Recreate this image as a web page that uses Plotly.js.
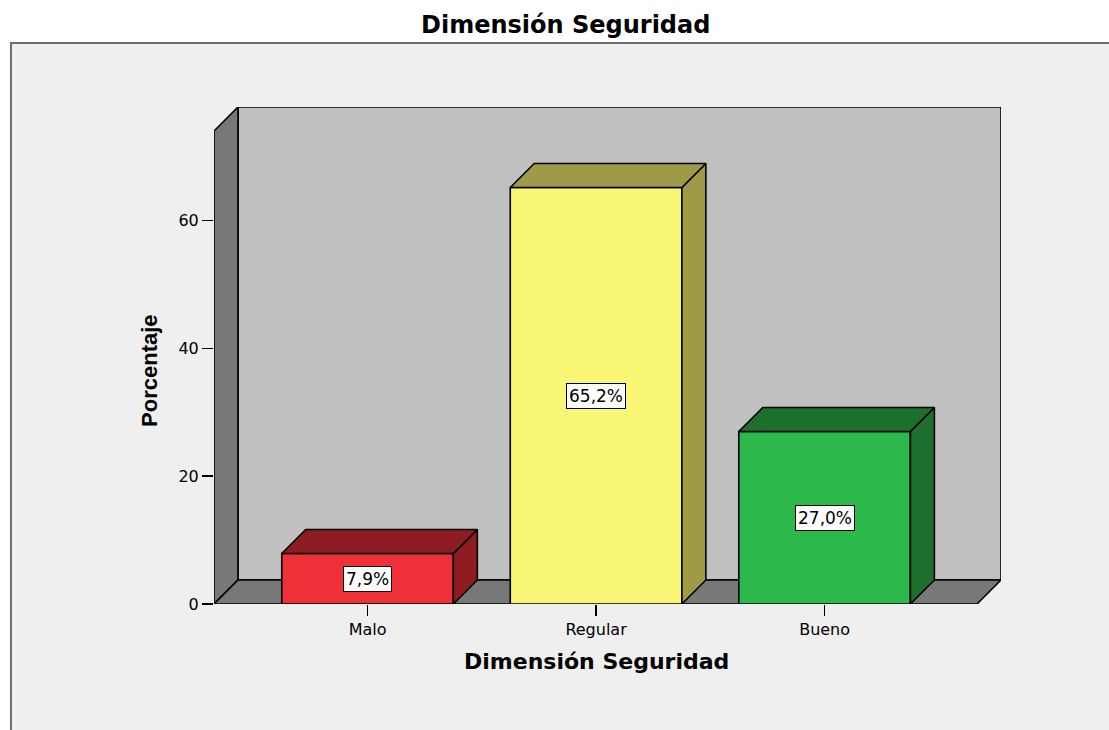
<!DOCTYPE html>
<html>
<head>
<meta charset="utf-8">
<script src="https://cdn.plot.ly/plotly-3.0.1.min.js"></script>
<style>
  html, body { margin: 0; padding: 0; background: #ffffff; }
  #chart { width: 1109px; height: 730px; }
</style>
</head>
<body>
<div id="chart"></div>
<script>
// Frequency of answers for the "Dimensión Seguridad" scale
const categorias = ['Malo', 'Regular', 'Bueno'];
const porcentajes = [7.9, 65.2, 27.0];
const colorFrente = ['#ef3039', '#f9f575', '#2db84b'];
const colorSombra = ['#8f1c21', '#9e9a48', '#1d6f2e'];
const marcasY = [0, 20, 40, 60];

// axis extents and the 3D depth offset (in data units)
const X0 = -0.672, X1 = 2.772;
const Y0 = 0, Y1 = 77.8;
const DX = 0.105, DY = 3.76;
const ANCHO = 0.751;
const EDGE = { color: '#000000', width: 1.6 };
const FONT = 'DejaVu Sans, Verdana, sans-serif';

const xs = categorias.map((_, i) => i);

// Box walls: back, left side and floor
const pathOf = pts => 'M' + pts.map(p => p[0] + ',' + p[1]).join(' L') + ' Z';
const shapes = [
  // outer panel
  { type: 'rect', xref: 'paper', yref: 'paper', x0: -0.258, x1: 1.3, y0: -0.3, y1: 1.1288,
    fillcolor: '#efefef', line: { color: '#6e6e6e', width: 2 }, layer: 'below' },
  // back wall
  { type: 'path', xref: 'x', yref: 'y', layer: 'below', fillcolor: '#c0c0c0', line: EDGE,
    path: pathOf([[X0 + DX, Y0 + DY], [X1, Y0 + DY], [X1, Y1], [X0 + DX, Y1]]) },
  // left wall
  { type: 'path', xref: 'x', yref: 'y', layer: 'below', fillcolor: '#787878', line: EDGE,
    path: pathOf([[X0, Y0], [X0 + DX, Y0 + DY], [X0 + DX, Y1], [X0, Y1 - DY]]) },
  // floor
  { type: 'path', xref: 'x', yref: 'y', layer: 'below', fillcolor: '#787878', line: EDGE,
    path: pathOf([[X0, Y0], [X1 - DX, Y0], [X1, Y0 + DY], [X0 + DX, Y0 + DY]]) }
];

const traces = [];

// front faces of the bars
traces.push({
  type: 'bar', x: xs, y: porcentajes, width: ANCHO,
  marker: { color: colorFrente, line: EDGE },
  hoverinfo: 'skip', showlegend: false
});

// top and side faces, built from each value
porcentajes.forEach((v, i) => {
  const xl = xs[i] - ANCHO / 2, xr = xs[i] + ANCHO / 2;
  traces.push({
    type: 'scatter', mode: 'lines', fill: 'toself', fillcolor: colorSombra[i],
    x: [xr, xr + DX, xr + DX, xr, xr], y: [0, DY, v + DY, v, 0],
    line: EDGE, hoverinfo: 'skip', showlegend: false
  });
  traces.push({
    type: 'scatter', mode: 'lines', fill: 'toself', fillcolor: colorSombra[i],
    x: [xl, xl + DX, xr + DX, xr, xl], y: [v, v + DY, v + DY, v, v],
    line: EDGE, hoverinfo: 'skip', showlegend: false
  });
});

const fmt = v => v.toFixed(1).replace('.', ',') + '%';

const annotations = porcentajes.map((v, i) => ({
  x: xs[i], y: v / 2, xref: 'x', yref: 'y', showarrow: false,
  text: fmt(v), font: { family: FONT, size: 17, color: '#000000' },
  bgcolor: '#ffffff', bordercolor: '#000000', borderwidth: 1, borderpad: 2
}));

annotations.push(
  { xref: 'paper', yref: 'paper', x: 0.446, y: 1.165, showarrow: false,
    xanchor: 'center', yanchor: 'middle',
    text: '<b>Dimensión Seguridad</b>', font: { family: FONT, size: 24, color: '#000000' } },
  { xref: 'paper', yref: 'paper', x: 0.4854, y: -0.1147, showarrow: false,
    xanchor: 'center', yanchor: 'middle',
    text: '<b>Dimensión Seguridad</b>', font: { family: FONT, size: 22, color: '#000000' } },
  { xref: 'paper', yref: 'paper', x: -0.0813, y: 0.469, showarrow: false, textangle: -90,
    xanchor: 'center', yanchor: 'middle',
    text: '<b>Porcentaje</b>', font: { family: 'Liberation Sans, Arial, sans-serif', size: 22, color: '#000000' } }
);

const layout = {
  width: 1109, height: 730,
  margin: { l: 214, r: 108, t: 107, b: 126, pad: 0 },
  paper_bgcolor: '#ffffff',
  plot_bgcolor: 'rgba(0,0,0,0)',
  showlegend: false,
  xaxis: {
    range: [X0, X1], tickvals: xs, ticktext: categorias,
    showgrid: false, zeroline: false, showline: false,
    ticks: 'outside', ticklen: 11, tickwidth: 1.5, tickcolor: '#000000',
    tickfont: { family: FONT, size: 16, color: '#000000' }, fixedrange: true
  },
  yaxis: {
    range: [Y0, Y1], tickvals: marcasY,
    showgrid: false, zeroline: false, showline: false,
    ticks: 'outside', ticklen: 11, tickwidth: 1.5, tickcolor: '#000000',
    tickfont: { family: FONT, size: 16, color: '#000000' }, fixedrange: true
  },
  shapes: shapes,
  annotations: annotations
};

Plotly.newPlot('chart', traces, layout, { displayModeBar: false, staticPlot: true });
</script>
</body>
</html>
